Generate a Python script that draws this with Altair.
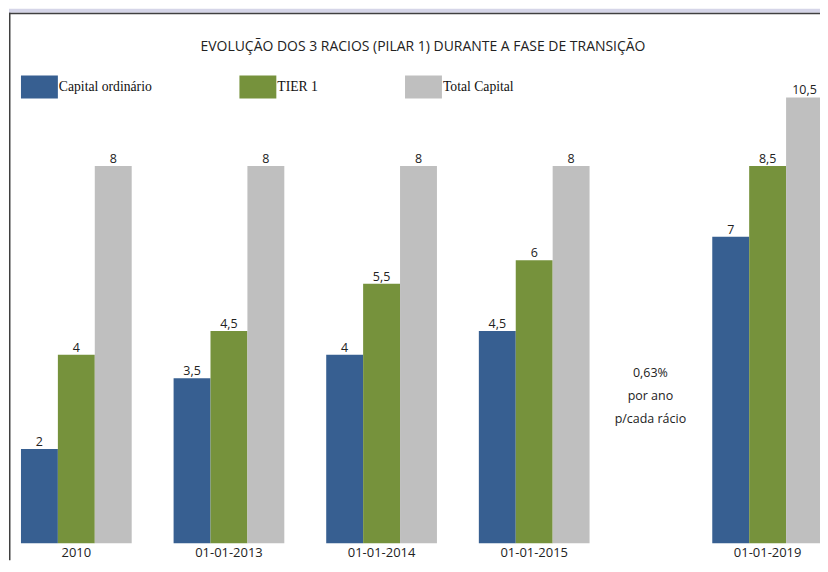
import altair as alt
import pandas as pd

# ---- data ----
categories = ["2010", "01-01-2013", "01-01-2014", "01-01-2015", "01-01-2019"]
series = ["Capital ordinário", "TIER 1", "Total Capital"]
# bar heights as drawn
capital_ordinario = [2, 3.5, 4, 4.5, 6.5]
tier_1 = [4, 4.5, 5.5, 6, 8]
total_capital = [8, 8, 8, 8, 9.45]
# value labels as printed
capital_ordinario_labels = ["2", "3,5", "4", "4,5", "7"]
tier_1_labels = ["4", "4,5", "5,5", "6", "8,5"]
total_capital_labels = ["8", "8", "8", "8", "10,5"]
colors = ["#375F91", "#76923C", "#BFBFBF"]
title_text = "EVOLUÇÃO DOS 3 RACIOS (PILAR 1) DURANTE A FASE DE TRANSIÇÃO"
note_lines = ["0,63%", "por ano", "p/cada rácio"]

rows = []
for s, vals, lbls in zip(series,
                         [capital_ordinario, tier_1, total_capital],
                         [capital_ordinario_labels, tier_1_labels, total_capital_labels]):
    for c, v, l in zip(categories, vals, lbls):
        rows.append({"categoria": c, "serie": s, "valor": v, "rotulo": l})
df = pd.DataFrame(rows)
left_df = df[df["categoria"] != categories[-1]]
right_df = df[df["categoria"] == categories[-1]]
one = pd.DataFrame({"k": [0]})

SANS = "Open Sans"
y_scale = alt.Scale(domain=[0, 10], nice=False, zero=True)
legend = alt.Legend(
    orient="none", legendX=0, legendY=-3, direction="horizontal", columns=3,
    title=None, padding=0,
    symbolType="M-1,-0.62L1,-0.62L1,0.62L-1,0.62Z", symbolSize=1369,
    symbolStrokeWidth=0, labelFont="Liberation Serif", labelFontSize=13.7,
    labelColor="#111111", labelOffset=1, columnPadding=87,
)
color_enc = alt.Color("serie:N", sort=series,
                      scale=alt.Scale(domain=series, range=colors), legend=legend)
x_axis = alt.Axis(title=None, domain=False, ticks=False, tickSize=0, grid=False,
                  labelAngle=0, labelFont=SANS, labelFontSize=13, zindex=2,
                  labelColor="#222222", labelPadding=13, labelBaseline="alphabetic")
x_off = alt.XOffset("serie:N", sort=series,
                    scale=alt.Scale(paddingInner=0, paddingOuter=0))
y_enc = alt.Y("valor:Q", scale=y_scale, axis=None)


def panel(data, cats, pad_inner):
    x_enc = alt.X("categoria:N", sort=cats,
                  scale=alt.Scale(paddingInner=pad_inner, paddingOuter=0), axis=x_axis)
    bars = alt.Chart(data).mark_bar(strokeWidth=0).encode(
        x=x_enc, xOffset=x_off, y=y_enc, color=color_enc)
    labels = alt.Chart(data).mark_text(
        dy=-3, baseline="alphabetic", font=SANS, fontSize=12.5, color="#222222"
    ).encode(x=x_enc, xOffset=x_off, y=y_enc, text="rotulo:N")
    return bars, labels


# root origin = top-left of the left plot area (page x 20, y 71)
band_top = alt.Chart(one).mark_rect(fill="#D5D5E8").encode(
    x=alt.value(-12), x2=alt.value(804), y=alt.value(-63), y2=alt.value(-59))
border_left = alt.Chart(one).mark_rule(color="#404040", strokeWidth=1.5).encode(
    x=alt.value(-11.25), y=alt.value(-59), y2=alt.value(490))
border_top = alt.Chart(one).mark_rule(color="#404040", strokeWidth=1.5).encode(
    x=alt.value(-12), x2=alt.value(804), y=alt.value(-58.25))
title = alt.Chart(one).mark_text(
    text=title_text, font=SANS, fontSize=14, color="#222222",
    align="center", baseline="middle").encode(x=alt.value(403), y=alt.value(-25))
note = alt.Chart(one).mark_text(
    text=note_lines, font=SANS, fontSize=12.5, color="#222222", lineHeight=23,
    align="center", baseline="alphabetic").encode(x=alt.value(631), y=alt.value(306))

bars_l, labels_l = panel(left_df, categories[:4], 42 / 153)
bars_r, labels_r = panel(right_df, categories[4:], 0)

left = alt.layer(band_top, border_left, border_top, bars_l, labels_l, title, note).properties(
    width=570, height=473)
right = alt.layer(bars_r, labels_r).properties(width=111, height=473)

chart = alt.hconcat(left, right, spacing=123, bounds="flush").resolve_scale(
    y="shared", color="shared"
).properties(
    background="white",
    padding={"left": 0, "top": 0, "right": -4, "bottom": -1},
).configure_view(stroke=None)

chart.save("out.html", embed_options={"renderer": "svg", "actions": False})
